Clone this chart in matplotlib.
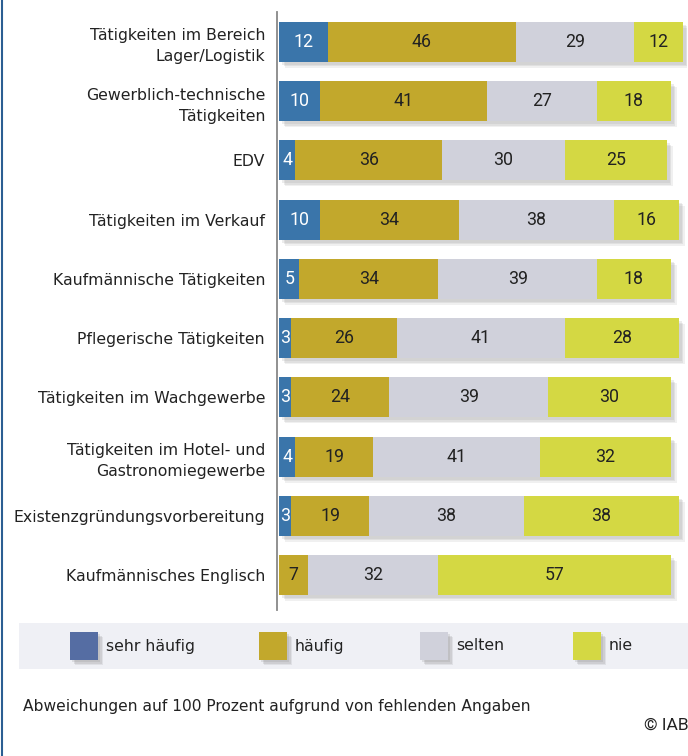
import matplotlib
matplotlib.use("Agg")
import matplotlib.pyplot as plt
import matplotlib.transforms as mtrans
from matplotlib.patches import Rectangle
from matplotlib.lines import Line2D
from matplotlib import font_manager

# Daten
kategorien = [
    "Tätigkeiten im Bereich\nLager/Logistik",
    "Gewerblich-technische\nTätigkeiten",
    "EDV",
    "Tätigkeiten im Verkauf",
    "Kaufmännische Tätigkeiten",
    "Pflegerische Tätigkeiten",
    "Tätigkeiten im Wachgewerbe",
    "Tätigkeiten im Hotel- und\nGastronomiegewerbe",
    "Existenzgründungsvorbereitung",
    "Kaufmännisches Englisch",
]
sehr_haeufig = [12, 10, 4, 10, 5, 3, 3, 4, 3, 0]
haeufig = [46, 41, 36, 34, 34, 26, 24, 19, 19, 7]
selten = [29, 27, 30, 38, 39, 41, 39, 41, 38, 32]
nie = [12, 18, 25, 16, 18, 28, 30, 32, 38, 57]
legende = ["sehr häufig", "häufig", "selten", "nie"]

farben = ["#3A75AA", "#C2A82C", "#D0D1DB", "#D4D843"]
farben_legende = ["#556DA3", "#C2A82C", "#D0D1DB", "#D4D843"]

# Schrift
namen = {f.name for f in font_manager.fontManager.ttflist}
if "Liberation Sans Narrow" in namen:
    schrift = ["Liberation Sans Narrow", "DejaVu Sans"]
    groesse = 13.5
else:
    schrift = ["DejaVu Sans Condensed", "DejaVu Sans"]
    groesse = 11.3
plt.rcParams["font.family"] = schrift
textfarbe = "#222222"

W, H = 688, 756
fig = plt.figure(figsize=(W / 100, H / 100), dpi=100)

x0, x1 = 279, 687
y_top, y_bot = 12, 608
ax = fig.add_axes([x0 / W, 1 - y_bot / H, (x1 - x0) / W, (y_bot - y_top) / H])
ax.set_xlim(0, 100)
ax.set_ylim(9.557, -0.506)

y = list(range(len(kategorien)))
hoehe = 0.675
serien = [sehr_haeufig, haeufig, selten, nie]
summen = [a + b + c + d for a, b, c, d in zip(*serien)]

# Schatten (weich, mehrere Lagen)
for dx, a in [(3, 0.18), (4.5, 0.18), (6, 0.14)]:
    off = ax.transData + mtrans.ScaledTranslation(dx / 100, -dx / 100, fig.dpi_scale_trans)
    ax.barh(y, summen, height=hoehe, color="#9a9a9a", alpha=a, transform=off, zorder=1, linewidth=0)

links = [0] * len(kategorien)
for i, werte in enumerate(serien):
    ax.barh(y, werte, left=links, height=hoehe, color=farben[i], zorder=2, linewidth=0)
    for j, v in enumerate(werte):
        if v > 0:
            ax.text(links[j] + v / 2, j, str(v), ha="center", va="center",
                    fontsize=12.8, color="white" if i == 0 else textfarbe,
                    family=["Roboto", "DejaVu Sans"], zorder=3)
    links = [l + v for l, v in zip(links, werte)]

ax.set_yticks(y)
ax.set_yticklabels(kategorien, fontsize=groesse, color=textfarbe, linespacing=1.5)
ax.tick_params(axis="y", length=0, pad=10)
ax.set_xticks([])
for s in ax.spines.values():
    s.set_visible(False)

# senkrechte Achsenlinie
fig.add_artist(Line2D([277 / W, 277 / W], [1 - 12 / H, 1 - 610 / H], color="#888888", lw=1.3))
# linker Rand
fig.add_artist(Line2D([1.5 / W, 1.5 / W], [0, 1], color="#2B5E92", lw=1.5))

# Legende
fig.add_artist(Rectangle((19 / W, 1 - 669 / H), (W - 19) / W, 46 / H,
                         transform=fig.transFigure, color="#EFF0F5", lw=0, zorder=0))
pos_patch = [70, 259, 420, 573]
for k, px in enumerate(pos_patch):
    for dx, a in [(2, 0.2), (3.5, 0.2), (5, 0.15)]:
        fig.add_artist(Rectangle(((px + dx) / W, 1 - (660 + dx) / H), 28 / W, 28 / H,
                                 transform=fig.transFigure, color="#8a8a8a", alpha=a, lw=0))
    fig.add_artist(Rectangle((px / W, 1 - 660 / H), 28 / W, 28 / H,
                             transform=fig.transFigure, color=farben_legende[k], lw=0))
    fig.text((px + 36) / W, 1 - 646 / H, legende[k], fontsize=groesse, color=textfarbe,
             va="center", ha="left")

fig.text(23 / W, 1 - 706 / H, "Abweichungen auf 100 Prozent aufgrund von fehlenden Angaben",
         fontsize=11.2, color=textfarbe, va="center", ha="left")
fig.text(644 / W, 1 - 725 / H, "© IAB", fontsize=12.5, color=textfarbe,
         va="center", ha="left", family=["Roboto", "DejaVu Sans"])

fig.savefig("out.png", dpi=100)
